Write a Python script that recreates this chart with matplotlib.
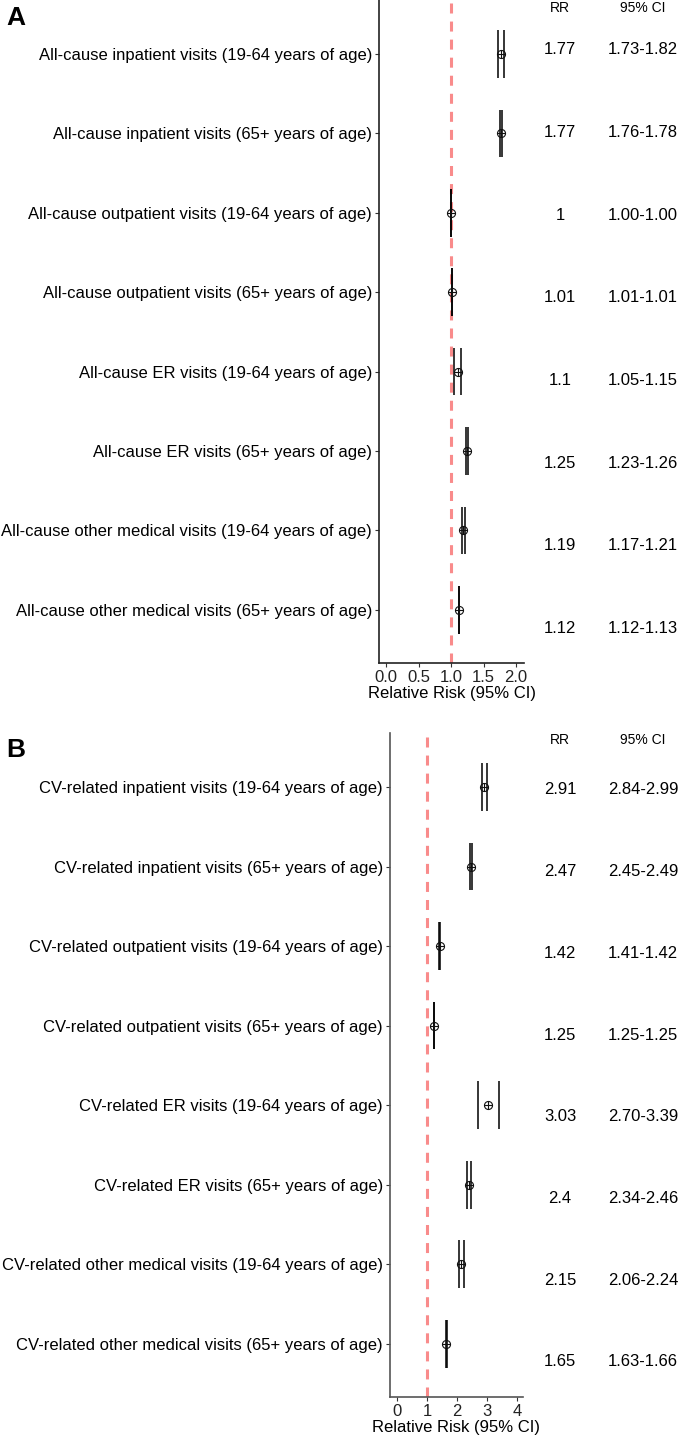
import matplotlib
matplotlib.use("Agg")
from matplotlib import pyplot as plt

plt.rcParams['font.family'] = ['Liberation Sans', 'DejaVu Sans']
plt.rcParams['lines.scale_dashes'] = False

labels_a = ["All-cause inpatient visits (19-64 years of age)",
            "All-cause inpatient visits (65+ years of age)",
            "All-cause outpatient visits (19-64 years of age)",
            "All-cause outpatient visits (65+ years of age)",
            "All-cause ER visits (19-64 years of age)",
            "All-cause ER visits (65+ years of age)",
            "All-cause other medical visits (19-64 years of age)",
            "All-cause other medical visits (65+ years of age)"]
rr_a = [1.77, 1.77, 1.00, 1.01, 1.10, 1.25, 1.19, 1.12]
lo_a = [1.73, 1.76, 1.00, 1.01, 1.05, 1.23, 1.17, 1.12]
hi_a = [1.82, 1.78, 1.00, 1.01, 1.15, 1.26, 1.21, 1.13]
rr_txt_a = ["1.77", "1.77", "1", "1.01", "1.1", "1.25", "1.19", "1.12"]
ci_txt_a = ["1.73-1.82", "1.76-1.78", "1.00-1.00", "1.01-1.01",
            "1.05-1.15", "1.23-1.26", "1.17-1.21", "1.12-1.13"]

labels_b = ["CV-related inpatient visits (19-64 years of age)",
            "CV-related inpatient visits (65+ years of age)",
            "CV-related outpatient visits (19-64 years of age)",
            "CV-related outpatient visits (65+ years of age)",
            "CV-related ER visits (19-64 years of age)",
            "CV-related ER visits (65+ years of age)",
            "CV-related other medical visits (19-64 years of age)",
            "CV-related other medical visits (65+ years of age)"]
rr_b = [2.91, 2.47, 1.42, 1.25, 3.03, 2.40, 2.15, 1.65]
lo_b = [2.84, 2.45, 1.41, 1.25, 2.70, 2.34, 2.06, 1.63]
hi_b = [2.99, 2.49, 1.42, 1.25, 3.39, 2.46, 2.24, 1.66]
rr_txt_b = ["2.91", "2.47", "1.42", "1.25", "3.03", "2.4", "2.15", "1.65"]
ci_txt_b = ["2.84-2.99", "2.45-2.49", "1.41-1.42", "1.25-1.25",
            "2.70-3.39", "2.34-2.46", "2.06-2.24", "1.63-1.66"]

W, H = 679, 1439
fig = plt.figure(figsize=(W / 100, H / 100), dpi=100)


def px_axes(left, top, right, bottom):
    return fig.add_axes([left / W, 1 - bottom / H, (right - left) / W, (bottom - top) / H])


def forest(ax, labels, rr, lo, hi, xlim, xticks, xticklabels, spine_color):
    n = len(labels)
    ys = list(range(1, n + 1))
    ax.axvline(1, color='#F98B8B', lw=2.2, dashes=(7.2, 5.8), zorder=1)
    for y, l, h in zip(ys, lo, hi):
        ax.vlines([l, h], y - 0.3, y + 0.3, color='black', lw=1.1, zorder=2)
    ax.plot(rr, ys, 'o', ms=5.8, mfc='none', mec='#111111', mew=0.8, zorder=3)
    ax.plot(rr, ys, '+', ms=5.8, mec='#111111', mew=0.8, zorder=3)
    ax.set_ylim(n + 0.67, 1 - 0.68)
    ax.set_xlim(*xlim)
    ax.set_yticks(ys)
    ax.set_yticklabels(labels, fontsize=12, color='black')
    ax.set_xticks(xticks)
    ax.set_xticklabels(xticklabels, fontsize=12, color='#222222')
    ax.tick_params(length=3, width=0.8, color='#333333', pad=2)
    ax.set_xlabel('Relative Risk (95% CI)', fontsize=12, labelpad=1)
    for s in ['top', 'right']:
        ax.spines[s].set_visible(False)
    for s in ['left', 'bottom']:
        ax.spines[s].set_color(spine_color)
        ax.spines[s].set_linewidth(1.2)


ax_a = px_axes(379, 0, 524, 663)
forest(ax_a, labels_a, rr_a, lo_a, hi_a, (-0.108, 2.123),
       [0, 0.5, 1.0, 1.5, 2.0], ["0.0", "0.5", "1.0", "1.5", "2.0"], '#222222')

ax_b = px_axes(390, 733, 523, 1397)
forest(ax_b, labels_b, rr_b, lo_b, hi_b, (-0.233, 4.2),
       [0, 1, 2, 3, 4], ["0", "1", "2", "3", "4"], '#555555')


def table(rr_txt, ci_txt, head_y, first_y, step):
    fig.text(560 / W, 1 - head_y / H, "RR", ha='center', va='center', fontsize=10)
    fig.text(643 / W, 1 - head_y / H, "95% CI", ha='center', va='center', fontsize=10)
    for i, (r, c) in enumerate(zip(rr_txt, ci_txt)):
        y = 1 - (first_y + step * i) / H
        fig.text(560 / W, y, r, ha='center', va='center', fontsize=12)
        fig.text(643 / W, y, c, ha='center', va='center', fontsize=12)


table(rr_txt_a, ci_txt_a, 8, 50, 82.6)
table(rr_txt_b, ci_txt_b, 740, 790, 81.7)

fig.text(6 / W, 1 - 18 / H, "A", fontsize=19, fontweight='bold', va='center')
fig.text(6 / W, 1 - 750 / H, "B", fontsize=19, fontweight='bold', va='center')

plt.savefig("out.png", dpi=100)
